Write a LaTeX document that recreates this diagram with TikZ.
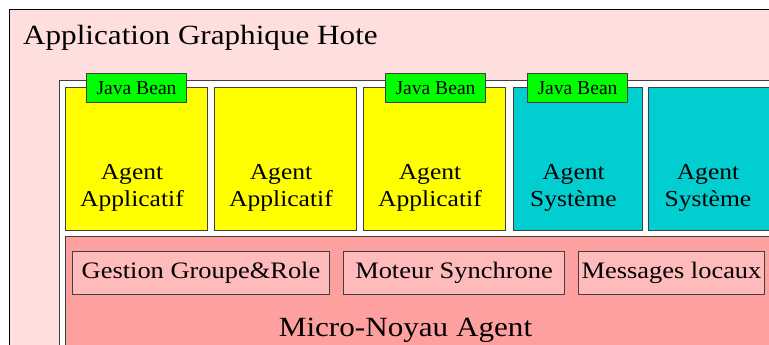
\documentclass[tikz,border=0pt]{standalone}
\usepackage{fontspec}
\setmainfont{Liberation Serif}[FakeStretch=1.12]
\newfontfamily\beanfont{Liberation Serif}
\definecolor{hote}{RGB}{255,222,222}
\definecolor{noyau}{RGB}{255,160,160}
\definecolor{module}{RGB}{255,187,187}
\definecolor{appli}{RGB}{255,255,0}
\definecolor{systeme}{RGB}{0,206,209}
\definecolor{bean}{RGB}{0,255,0}
\tikzset{
  box/.style={draw=black!75, line width=1pt, inner sep=0pt, anchor=north west},
  agentbox/.style={box, minimum height=143pt},
  beanbox/.style={box, fill=bean, minimum width=100pt, minimum height=29pt},
  modbox/.style={box, fill=module, minimum height=43pt},
  beantext/.style={font=\beanfont\fontsize{19.6}{22}\selectfont, inner sep=0pt},
  agenttext/.style={font=\fontsize{22.8}{27.3}\selectfont, align=center, anchor=base, inner sep=0pt},
  modtext/.style={font=\fontsize{23.6}{28}\selectfont, inner sep=0pt},
  bigtext/.style={font=\fontsize{27.8}{32}\selectfont, inner sep=0pt}
}
\begin{document}
\begin{tikzpicture}[x=1pt,y=-1pt]
\useasboundingbox (0,0) rectangle (769,345);
\clip (0,0) rectangle (769,345);
\node[box, draw=black, fill=hote, minimum width=790pt, minimum height=370pt] (hote) at (8.5,9.5) {};
\node[bigtext, anchor=base west] (titre) at (23,45) {Application Graphique Hote};
\node[box, fill=white, minimum width=740pt, minimum height=300pt] (conteneur) at (58.5,80.5) {};
% agents
\node[agentbox, fill=appli, minimum width=142pt] (a1) at (65,87) {};
\node[agentbox, fill=appli, minimum width=142pt] (a2) at (214,87) {};
\node[agentbox, fill=appli, minimum width=142pt] (a3) at (363,87) {};
\node[agentbox, fill=systeme, minimum width=129pt] (a4) at (513,87) {};
\node[agentbox, fill=systeme, minimum width=128pt] (a5) at (648,87) {};
\node[agenttext] (t1) at ([xshift=-4.5pt]a1.center |- 0,206.7) {Agent\\Applicatif};
\node[agenttext] (t2) at ([xshift=-4.5pt]a2.center |- 0,206.7) {Agent\\Applicatif};
\node[agenttext] (t3) at ([xshift=-4.5pt]a3.center |- 0,206.7) {Agent\\Applicatif};
\node[agenttext] (t4) at ([xshift=-4.5pt]a4.center |- 0,206.7) {Agent\\Système};
\node[agenttext] (t5) at ([xshift=-4.5pt]a5.center |- 0,206.7) {Agent\\Système};
% java beans
\node[beanbox] (j1) at (86,73) {};
\node[beanbox] (j3) at (385,73) {};
\node[beanbox] (j4) at (527,73) {};
\node[beantext] at (j1.center) {Java Bean};
\node[beantext] at (j3.center) {Java Bean};
\node[beantext] at (j4.center) {Java Bean};
% kernel
\node[box, fill=noyau, minimum width=740pt, minimum height=150pt] (noyau) at (65,236) {};
\node[modbox, minimum width=257pt] (m1) at (72,251) {};
\node[modbox, minimum width=221pt] (m2) at (343,251) {};
\node[modbox, minimum width=186pt] (m3) at (578,251) {};
\node[modtext] at (m1.center) {Gestion Groupe\&Role};
\node[modtext] at (m2.center) {Moteur Synchrone};
\node[modtext] at (m3.center) {Messages locaux};
\node[bigtext, anchor=base] (micro) at (405.5,336) {Micro-Noyau Agent};
\end{tikzpicture}
\end{document}
